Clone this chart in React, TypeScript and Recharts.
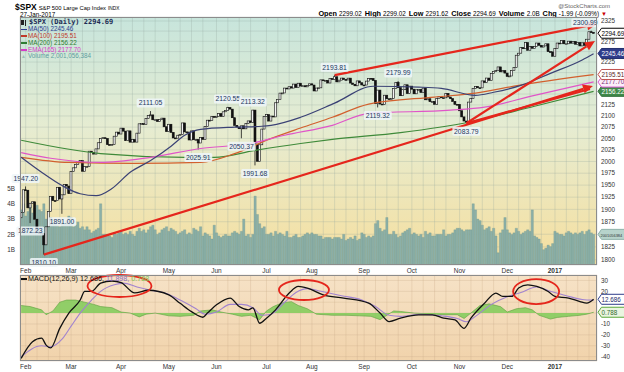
import React from "react";
import {
  ComposedChart,
  Bar,
  Line,
  Area,
  XAxis,
  YAxis,
  CartesianGrid,
  ReferenceLine,
  ReferenceDot,
} from "recharts";

// trading-day index 0 = 28-Jan-2016, 252 = 27-Jan-2017
const MONTH_IDX = [2, 22, 44, 65, 86, 108, 128, 151, 172, 193, 214, 235];
const MONTH_LABELS = ["Feb", "Mar", "Apr", "May", "Jun", "Jul", "Aug", "Sep", "Oct", "Nov", "Dec", "2017"];

const PRIOR_CLOSE = 1882.95;
const CLOSES = [
  1893.36, 1940.24,
  // Feb
  1939.38, 1903.03, 1912.53, 1915.45, 1880.05, 1853.44, 1852.21, 1851.86, 1829.08, 1864.78,
  1895.58, 1926.82, 1917.83, 1917.78, 1945.5, 1921.27, 1929.8, 1951.7, 1948.05, 1932.23,
  // Mar
  1978.35, 1986.45, 1993.4, 1999.99, 2001.76, 1979.26, 1989.26, 1989.57, 2022.19, 2019.64, 2015.93,
  2027.22, 2040.59, 2049.58, 2051.6, 2049.8, 2036.71, 2035.94, 2037.05, 2055.01, 2063.95, 2059.74,
  // Apr
  2072.78, 2066.13, 2045.17, 2066.66, 2041.91, 2047.6, 2041.99, 2061.72, 2082.42, 2082.78, 2080.73,
  2094.34, 2100.8, 2102.4, 2091.48, 2091.58, 2087.79, 2091.7, 2095.15, 2075.81, 2065.3,
  // May
  2081.43, 2063.37, 2051.12, 2050.63, 2057.14, 2058.69, 2084.39, 2064.46, 2064.11, 2046.61, 2066.66,
  2047.21, 2047.63, 2040.04, 2052.32, 2048.04, 2076.06, 2090.54, 2090.1, 2099.06, 2096.95,
  // Jun
  2099.33, 2105.26, 2099.13, 2109.41, 2112.13, 2119.12, 2115.48, 2096.07, 2079.06, 2075.32, 2071.5,
  2077.99, 2071.22, 2083.25, 2088.9, 2085.45, 2113.32, 2037.41, 2000.54, 2036.09, 2070.77, 2098.86,
  // Jul
  2102.95, 2088.55, 2099.73, 2097.9, 2129.9, 2137.16, 2152.14, 2152.43, 2163.75, 2161.74,
  2166.89, 2163.78, 2173.02, 2165.17, 2175.03, 2168.48, 2169.18, 2166.58, 2170.06, 2173.6,
  // Aug
  2170.84, 2157.03, 2163.79, 2164.25, 2182.87, 2180.89, 2181.74, 2175.49, 2185.79, 2184.05, 2190.15,
  2178.15, 2182.22, 2187.02, 2183.87, 2182.64, 2186.9, 2175.44, 2172.47, 2169.04, 2180.38, 2176.12, 2170.95,
  // Sep
  2170.86, 2179.98, 2186.48, 2186.16, 2181.3, 2127.81, 2159.04, 2127.02, 2125.77, 2147.26, 2139.16,
  2139.12, 2139.76, 2163.12, 2177.18, 2164.69, 2146.1, 2159.93, 2171.37, 2151.13, 2168.27,
  // Oct
  2161.2, 2150.49, 2159.73, 2160.77, 2153.74, 2163.66, 2136.73, 2139.18, 2132.55, 2132.98, 2126.5,
  2139.6, 2144.29, 2141.34, 2141.16, 2151.33, 2143.16, 2139.43, 2133.04, 2126.41, 2126.15,
  // Nov
  2111.72, 2097.94, 2088.66, 2085.18, 2131.52, 2139.56, 2163.26, 2167.48, 2164.45, 2164.2, 2180.39,
  2176.94, 2187.12, 2181.9, 2198.18, 2202.94, 2204.72, 2213.35, 2201.72, 2204.66, 2198.81,
  // Dec
  2191.08, 2191.95, 2204.71, 2212.23, 2241.35, 2246.19, 2259.53, 2256.96, 2271.72, 2253.28, 2262.03,
  2258.07, 2262.53, 2270.76, 2265.18, 2260.96, 2263.79, 2268.88, 2249.92, 2249.26, 2238.83,
  // Jan 2017
  2257.83, 2270.75, 2269.0, 2276.98, 2268.9, 2268.9, 2275.32, 2270.44, 2274.64, 2267.89,
  2271.89, 2263.69, 2271.31, 2265.2, 2280.07, 2298.37, 2296.68, 2294.69,
];

// volume, billions
const VOLUME_B = [
  3.6, 4.0,
  3.2, 3.5, 3.9, 3.4, 3.7, 3.9, 3.6, 3.5, 4.0, 3.0, 3.0, 3.1, 2.7, 2.8, 2.6, 2.5, 2.8, 2.7, 2.9, 3.2,
  3.1, 2.5, 2.6, 2.8, 2.4, 2.5, 2.3, 2.5, 2.3, 2.1, 2.2, 2.3, 2.4, 4.0, 2.0, 2.0, 2.0, 1.9, 1.8, 2.1, 2.0, 2.1,
  2.2, 2.0, 2.1, 2.0, 2.2, 2.0, 1.9, 2.2, 2.4, 2.2, 2.3, 2.1, 2.3, 2.5, 2.6, 2.3, 2.0, 2.1, 2.3, 2.4, 2.5,
  2.2, 2.4, 2.3, 2.2, 2.0, 2.1, 2.2, 2.3, 2.0, 2.1, 2.0, 2.4, 2.3, 2.2, 2.5, 1.9, 2.1, 2.0, 1.9, 1.7, 2.6,
  2.1, 1.9, 1.8, 1.9, 2.0, 1.9, 1.9, 2.1, 2.2, 2.1, 2.0, 2.2, 3.0, 1.9, 2.0, 1.8, 2.0, 4.5, 3.3, 2.7, 2.4, 2.5,
  2.0, 2.0, 2.1, 1.9, 2.2, 2.0, 2.1, 2.0, 1.9, 2.2, 1.8, 1.8, 1.9, 2.0, 1.8, 1.8, 1.9, 2.0, 2.1, 2.0,
  2.1, 2.0, 2.0, 1.9, 1.9, 1.7, 1.8, 1.8, 1.8, 1.7, 1.8, 1.8, 1.8, 1.7, 2.0, 1.6, 1.7, 1.8, 1.7, 1.9, 1.6, 1.7, 2.1,
  2.0, 1.8, 1.9, 1.8, 1.9, 2.7, 2.9, 2.4, 2.2, 2.3, 3.1, 2.0, 2.0, 2.2, 2.0, 1.8, 1.9, 2.1, 2.2, 2.3, 2.4,
  2.0, 2.1, 2.0, 1.9, 2.0, 1.8, 2.2, 2.0, 2.1, 1.9, 1.9, 2.0, 2.0, 2.0, 2.3, 1.9, 2.0, 2.0, 2.1, 2.3, 2.4,
  2.4, 2.3, 2.2, 2.3, 2.3, 2.3, 4.0, 3.6, 3.0, 2.9, 2.6, 2.3, 2.4, 2.5, 2.2, 2.4, 1.9, 0.8, 2.1, 2.3, 3.1,
  2.3, 2.1, 2.0, 2.1, 2.4, 2.2, 2.0, 2.1, 2.2, 2.3, 2.2, 3.6, 1.9, 1.8, 1.7, 1.4, 1.0, 1.1, 1.3, 1.2, 1.4,
  2.2, 2.1, 2.0, 2.0, 1.9, 2.1, 2.2, 2.1, 2.0, 2.1, 2.0, 2.1, 2.2, 2.0, 2.2, 2.3, 2.1, 2.0,
];

const PRICE_TICKS = [
  1800, 1825, 1850, 1875, 1900, 1925, 1950, 1975, 2000, 2025, 2050, 2075, 2100,
  2125, 2150, 2175, 2200, 2225, 2250, 2275, 2300, 2325,
];
// tick labels sitting under the value tags on the right
const PRICE_TICKS_COVERED = [1850, 2150, 2175, 2200, 2250, 2300];
const VOL_TICKS = [1, 2, 3, 4, 5];
const MACD_TICKS = [-40, -30, -20, -10, 0, 10, 20, 30];
const MACD_TICKS_COVERED = [0, 10];

// moving averages: [day index, value]
const MA50: [number, number][] = [
  [0, 2009], [9, 1977], [18, 1949], [26, 1932], [33, 1928], [40, 1943], [48, 1977], [57, 2002],
  [66, 2033], [72, 2057], [79, 2070], [94, 2075], [106, 2077], [110, 2079], [123, 2097], [138, 2129],
  [155, 2168], [175, 2166], [185, 2163], [200, 2147], [208, 2154], [220, 2170], [233, 2198], [247, 2230], [252, 2245],
];
const MA100: [number, number][] = [
  [0, 2009], [21, 1998], [50, 1996], [79, 1998], [94, 2017], [109, 2048], [123, 2073], [137, 2097],
  [153, 2127], [182, 2143], [200, 2152], [219, 2170], [252, 2195],
];
const EMA165: [number, number][] = [
  [0, 2019], [13, 2007], [35, 1998], [57, 2009], [79, 2028], [101, 2039], [116, 2057], [137, 2079],
  [153, 2106], [189, 2113], [204, 2120], [226, 2147], [252, 2178],
];
const MA200: [number, number][] = [
  [0, 2046], [35, 2017], [72, 2009], [85, 2009], [103, 2024], [123, 2039], [137, 2048], [167, 2063],
  [197, 2086], [226, 2122], [252, 2156],
];

// labelled highs / lows (dx nudges a label sideways)
const PIVOTS = [
  { i: 2, v: 1947.2, up: true, dx: 0 },
  { i: 4, v: 1872.23, up: false, dx: 0 },
  { i: 10, v: 1810.1, up: false, dx: 0 },
  { i: 18, v: 1891.0, up: false, dx: 0 },
  { i: 57, v: 2111.05, up: true, dx: 0 },
  { i: 78, v: 2025.91, up: false, dx: 0 },
  { i: 91, v: 2120.55, up: true, dx: 0 },
  { i: 97, v: 2050.37, up: false, dx: 0 },
  { i: 102, v: 2113.32, up: true, dx: 0 },
  { i: 103, v: 1991.68, up: false, dx: 0 },
  { i: 138, v: 2193.81, up: true, dx: 0 },
  { i: 157, v: 2119.32, up: false, dx: 0 },
  { i: 166, v: 2179.99, up: true, dx: 0 },
  { i: 196, v: 2083.79, up: false, dx: 0 },
  { i: 251, v: 2300.99, up: true, dx: -6 },
];

// hand-drawn trend lines: start, end, arrow head or not
const TRENDS: { a: [number, number]; b: [number, number]; arrow: boolean }[] = [
  { a: [10, 1810.1], b: [251.7, 2168.6], arrow: true },
  { a: [196, 2083.79], b: [250.4, 2161.6], arrow: false },
  { a: [138, 2193.81], b: [253.5, 2317.6], arrow: true },
  { a: [196, 2083.79], b: [252.6, 2275.7], arrow: true },
];

const MACD_LINE: [number, number][] = [
  [0, -41.6], [5, -26.3], [9, -23], [11, -29.4], [13, -32], [17, -14], [21, 0], [26, 12], [28, 20],
  [31, 20], [35, 27.6], [40, 29.5], [44, 28], [50, 18.5], [56, 21], [65, 16.8], [70, 9], [75, 1.4],
  [80, -3.8], [82, 0], [86, 7.6], [92, 13.8], [96, 6], [100, 3], [102, 4.8], [105, -9.3], [108, -4.7],
  [112, 3], [118, 18.4], [122, 24.5], [126, 23], [133, 16.8], [142, 13.8], [153, 9.1], [158, 0],
  [162, -7.8], [167, -4.7], [175, -1.7], [181, -1.7], [186, -4.7], [191, -6.3], [195, -14], [198, -4.7],
  [204, 9.1], [209, 18.4], [212, 15.3], [216, 15.3], [219, 23], [223, 26], [227, 24.5], [232, 19.9],
  [235, 15.3], [241, 13.8], [246, 10.6], [249, 9.1], [252, 12.686],
];
const SIGNAL_LINE: [number, number][] = [
  [0, -40], [9, -30], [13, -31], [18, -24], [22, -12], [26, 0], [31, 12], [35, 20], [41, 26], [45, 27.5],
  [51, 24], [57, 21], [64, 18], [70, 12], [77, 4], [81, -1], [86, 1], [92, 8], [97, 8], [102, 5],
  [106, -2], [110, -1], [116, 10], [121, 19], [126, 22.5], [132, 20], [141, 16], [150, 12], [156, 6],
  [162, -2], [167, -3], [176, -1], [185, -2.5], [192, -5], [196, -8], [200, -3], [207, 8], [214, 15],
  [220, 19], [227, 24], [233, 20], [240, 16], [247, 12.5], [252, 11.898],
];
const HISTOGRAM: [number, number][] = [
  [0, 7], [4, 6], [9, 3], [11, -1.5], [14, 2], [17, 10], [20, 12], [24, 12], [28, 10], [32, 8], [35, 6],
  [40, 5], [44, 1], [48, 0], [52, -3.5], [55, -1], [59, 0], [65, -2.5], [70, -3], [76, -2], [79, 2],
  [84, 3], [88, 1], [93, -1], [97, -3], [101, -2], [105, -6], [108, 2], [111, 6], [115, 9.5], [119, 10.5],
  [122, 7], [126, 4], [130, -1], [137, -2], [143, -2], [149, -2.5], [154, -3], [158, -6], [161, -2],
  [164, 2], [167, 1.5], [173, 0], [181, -1], [187, -1.5], [192, -1.5], [195, -5], [198, 0], [202, 7],
  [206, 8.5], [211, 6], [214, 1], [218, 4], [222, 5], [225, 3], [228, -2], [233, -5.5], [236, -4],
  [241, -3], [246, -2], [249, -1], [252, 0.788],
];
const CIRCLES = [
  { i: 43.3, v: 24.9, rx: 32, ry: 11 },
  { i: 124.5, v: 21.2, rx: 25, ry: 10 },
  { i: 226.7, v: 19.8, rx: 23, ry: 12.5 },
];

const X_DOMAIN: [number, number] = [-0.5, 253.5];
const PRICE_DOMAIN: [number, number] = [1790, 2335];
const VOL_DOMAIN: [number, number] = [0, 16.2];
const MACD_DOMAIN: [number, number] = [-44, 35];

const FONT = "'Liberation Sans', Arial, sans-serif";
const RED = "#e5261c";

const GRID_TICKS: number[] = [];
MONTH_IDX.forEach((m, k) => {
  const next = k + 1 < MONTH_IDX.length ? MONTH_IDX[k + 1] : 254;
  for (let t = m; t <= next - 3; t += 5) GRID_TICKS.push(t);
});

const m50 = new Map(MA50);
const m100 = new Map(MA100);
const m200 = new Map(MA200);
const e165 = new Map(EMA165);
const macdMap = new Map(MACD_LINE);
const sigMap = new Map(SIGNAL_LINE);
const histMap = new Map(HISTOGRAM);

const priceRows = CLOSES.map((close, i) => {
  const open = i === 0 ? PRIOR_CLOSE : CLOSES[i - 1];
  let lo = Math.min(open, close);
  let hi = Math.max(open, close);
  const piv = PIVOTS.find((p) => p.i === i);
  if (piv && piv.up) hi = Math.max(hi, piv.v);
  if (piv && !piv.up) lo = Math.min(lo, piv.v);
  return {
    i,
    open,
    close,
    range: [lo, hi],
    vol: VOLUME_B[i],
    ma50: m50.get(i),
    ma100: m100.get(i),
    ma200: m200.get(i),
    ema165: e165.get(i),
  };
});

const macdRows = CLOSES.map((_, i) => ({
  i,
  macd: macdMap.get(i),
  signal: sigMap.get(i),
  hist: histMap.get(i),
}));

function MonthTick({ x, y, payload }: any) {
  const k = MONTH_IDX.indexOf(payload.value);
  if (k < 0) return <g />;
  const label = MONTH_LABELS[k];
  return (
    <text x={x} y={y + 5.5} textAnchor="middle" fontSize={6.5} fontFamily={FONT}
      fontWeight={label === "2017" ? 700 : 400} fill="#333">
      {label}
    </text>
  );
}

function Candle(props: any) {
  const { x, y, width, height, payload } = props;
  const [lo, hi] = payload.range;
  const span = Math.log(hi) - Math.log(lo);
  const py = (v: number) => (span > 0 ? y + (height * (Math.log(hi) - Math.log(v))) / span : y);
  const cx = x + width / 2;
  const top = py(Math.max(payload.open, payload.close));
  const bot = py(Math.min(payload.open, payload.close));
  const up = payload.close >= payload.open;
  return (
    <g>
      <line x1={cx} x2={cx} y1={y} y2={y + height} stroke="#111" strokeWidth={0.8} />
      <rect x={cx - 1} y={top} width={2} height={Math.max(bot - top, 0.9)}
        fill={up ? "#f4f4f4" : "#111"} stroke="#111" strokeWidth={0.6} />
    </g>
  );
}

const pivotShape = (up: boolean, text: string, dx: number) => (p: any) => {
  const y = p.cy + (up ? -8 : 8);
  const cx = p.cx + dx;
  const w = text.length * 3.7 + 2;
  return (
    <g>
      <rect x={cx - w / 2} y={y - 4.5} width={w} height={9} rx={1.5} fill="#eef6f9" fillOpacity={0.85} />
      <text x={cx} y={y + 2.4} textAnchor="middle" fontSize={6.8} fontFamily={FONT} fill="#22365e">
        {text}
      </text>
    </g>
  );
};

const tagShape = (text: string, fill: string, stroke: string, color: string, size = 6.3) => (p: any) => {
  const x = p.cx + 1;
  const y = p.cy;
  return (
    <g>
      <path d={`M${x},${y} L${x + 3.5},${y - 5} L${x + 30},${y - 5} L${x + 30},${y + 5} L${x + 3.5},${y + 5} Z`}
        fill={fill} stroke={stroke} strokeWidth={1} />
      <text x={x + (size < 5 ? 2.5 : 3.5)} y={y + 2.3} fontSize={size} fontFamily={FONT} fill={color}>
        {text}
      </text>
    </g>
  );
};

const ellipseShape = (rx: number, ry: number) => (p: any) => (
  <ellipse cx={p.cx} cy={p.cy} rx={rx} ry={ry} fill="none" stroke={RED} strokeWidth={1.8} />
);

const arrowShape = (arrow: boolean) => (p: any) => {
  const { x1, y1, x2, y2 } = p;
  if (!arrow) return <line x1={x1} y1={y1} x2={x2} y2={y2} stroke={RED} strokeWidth={2} />;
  const a = Math.atan2(y2 - y1, x2 - x1);
  const L = 10;
  const H = 4.5;
  const bx = x2 - L * Math.cos(a);
  const by = y2 - L * Math.sin(a);
  const pts = `${x2},${y2} ${bx + H * Math.sin(a)},${by - H * Math.cos(a)} ${bx - H * Math.sin(a)},${by + H * Math.cos(a)}`;
  return (
    <g>
      <line x1={x1} y1={y1} x2={bx} y2={by} stroke={RED} strokeWidth={2.2} />
      <polygon points={pts} fill={RED} />
    </g>
  );
};

const axisTick = { fontSize: 6.3, fill: "#333", fontFamily: FONT };

const LEGEND = [
  { text: "MA(50) 2245.46", color: "#2d3c8f" },
  { text: "MA(100) 2195.51", color: "#c0392b" },
  { text: "MA(200) 2156.22", color: "#2e7d32" },
  { text: "EMA(165) 2177.70", color: "#d63cc8" },
];

const HEADER_STATS = [
  ["Open", "2299.02"],
  ["High", "2299.02"],
  ["Low", "2291.62"],
  ["Close", "2294.69"],
  ["Volume", "2.0B"],
  ["Chg", "-1.99 (-0.09%)"],
];

export default function App() {
  return (
    <div style={{ position: "absolute", left: 0, top: 0, width: 624, height: 372, background: "#fff", overflow: "hidden", lineHeight: 1 }}>
      {/* price panel: background, grid, volume, axes */}
      <div style={{ position: "absolute", left: 0, top: 0 }}>
        <ComposedChart width={624} height={280} data={priceRows} margin={{ top: 17, right: 0, bottom: 3, left: 0 }}>
          <defs>
            <linearGradient id="mainBg" x1="0" y1="0" x2="0" y2="1">
              <stop offset="0%" stopColor="#c7e5dc" />
              <stop offset="45%" stopColor="#e6ecd1" />
              <stop offset="100%" stopColor="#f6df9e" />
            </linearGradient>
          </defs>
          <CartesianGrid yAxisId="price" fill="url(#mainBg)" stroke="#93a59e" strokeOpacity={0.45} strokeWidth={0.6} />
          <XAxis dataKey="i" type="number" domain={X_DOMAIN} ticks={GRID_TICKS} interval={0} allowDataOverflow
            tick={<MonthTick />} tickLine={false} axisLine={false} height={12} tickSize={0} tickMargin={2} />
          <YAxis yAxisId="vol" orientation="left" width={20} domain={VOL_DOMAIN} ticks={VOL_TICKS} interval={0}
            allowDataOverflow tickFormatter={(v) => `${v}B`} tick={axisTick} tickLine={false} axisLine={false}
            tickSize={0} tickMargin={5} />
          <YAxis yAxisId="price" orientation="right" width={27} scale="log" domain={PRICE_DOMAIN} ticks={PRICE_TICKS}
            interval={0} allowDataOverflow tick={axisTick} tickLine={false} axisLine={false} tickSize={0} tickMargin={4}
            tickFormatter={(v) => (PRICE_TICKS_COVERED.includes(v) ? "" : String(v))} />
          <Bar yAxisId="vol" dataKey="vol" barSize={2.27} fill="#8cb0a8" stroke="#71958d" strokeWidth={0.3}
            isAnimationActive={false} />
        </ComposedChart>
      </div>

      {/* price panel: candles, averages, annotations */}
      <div style={{ position: "absolute", left: 0, top: 0 }}>
        <ComposedChart width={624} height={280} data={priceRows} margin={{ top: 17, right: 27, bottom: 15, left: 20 }}>
          <XAxis dataKey="i" type="number" domain={X_DOMAIN} hide allowDataOverflow />
          <YAxis yAxisId="price" hide scale="log" domain={PRICE_DOMAIN} allowDataOverflow />
          <YAxis yAxisId="vol" hide domain={VOL_DOMAIN} allowDataOverflow />
          <Line yAxisId="price" dataKey="ma200" type="monotone" stroke="#3f8a3a" strokeWidth={1.2} dot={false} connectNulls isAnimationActive={false} />
          <Line yAxisId="price" dataKey="ma100" type="monotone" stroke="#d2602e" strokeWidth={1.2} dot={false} connectNulls isAnimationActive={false} />
          <Line yAxisId="price" dataKey="ema165" type="monotone" stroke="#e055c8" strokeWidth={1.2} dot={false} connectNulls isAnimationActive={false} />
          <Line yAxisId="price" dataKey="ma50" type="monotone" stroke="#3b4275" strokeWidth={1.2} dot={false} connectNulls isAnimationActive={false} />
          <Bar yAxisId="price" dataKey="range" barSize={2} shape={Candle} isAnimationActive={false} />
          {TRENDS.map((t, k) => (
            <ReferenceLine key={`t${k}`} yAxisId="price" ifOverflow="visible"
              segment={[{ x: t.a[0], y: t.a[1] }, { x: t.b[0], y: t.b[1] }]} shape={arrowShape(t.arrow)} />
          ))}
          {PIVOTS.map((p) => (
            <ReferenceDot key={`p${p.i}`} yAxisId="price" x={p.i} y={p.v} ifOverflow="visible"
              shape={pivotShape(p.up, p.v.toFixed(2), p.dx)} />
          ))}
          <ReferenceDot yAxisId="vol" x={253.5} y={2.001} ifOverflow="visible" shape={tagShape("2001056384", "#b7d3cb", "#8fb2aa", "#333", 3.9)} />
          <ReferenceDot yAxisId="price" x={253.5} y={2156.22} ifOverflow="visible" shape={tagShape("2156.22", "#3f8a4a", "#2e6e38", "#fff")} />
          <ReferenceDot yAxisId="price" x={253.5} y={2177.7} ifOverflow="visible" shape={tagShape("2177.70", "#fbeefa", "#d65ad0", "#7a2a78")} />
          <ReferenceDot yAxisId="price" x={253.5} y={2195.51} ifOverflow="visible" shape={tagShape("2195.51", "#fff", "#c0504d", "#5a1f1f")} />
          <ReferenceDot yAxisId="price" x={253.5} y={2245.46} ifOverflow="visible" shape={tagShape("2245.46", "#2f3d8a", "#22306e", "#fff")} />
          <ReferenceDot yAxisId="price" x={253.5} y={2294.69} ifOverflow="visible" shape={tagShape("2294.69", "#fff", "#000", "#000")} />
        </ComposedChart>
      </div>

      {/* MACD panel */}
      <div style={{ position: "absolute", left: 0, top: 270 }}>
        <ComposedChart width={624} height={102} data={macdRows} margin={{ top: 5, right: 0, bottom: 1, left: 20 }}>
          <defs>
            <linearGradient id="macdBg" x1="0" y1="0" x2="0" y2="1">
              <stop offset="0%" stopColor="#f6e2c6" />
              <stop offset="100%" stopColor="#f1d3ab" />
            </linearGradient>
          </defs>
          <CartesianGrid yAxisId="macd" fill="url(#macdBg)" stroke="#c8aa88" strokeOpacity={0.5} strokeWidth={0.6} />
          <XAxis dataKey="i" type="number" domain={X_DOMAIN} ticks={GRID_TICKS} interval={0} allowDataOverflow
            tick={<MonthTick />} tickLine={false} axisLine={false} height={10} tickSize={0} tickMargin={2} />
          <YAxis yAxisId="macd" orientation="right" width={27} domain={MACD_DOMAIN} ticks={MACD_TICKS} interval={0}
            allowDataOverflow tick={axisTick} tickLine={false} axisLine={false} tickSize={0} tickMargin={4}
            tickFormatter={(v) => (MACD_TICKS_COVERED.includes(v) ? "" : String(v))} />
          <Area yAxisId="macd" dataKey="hist" type="linear" baseValue={0} connectNulls fill="#86cc5e" fillOpacity={0.9}
            stroke="#5c9f3e" strokeWidth={0.6} isAnimationActive={false} />
          <Line yAxisId="macd" dataKey="signal" type="monotone" stroke="#a183cf" strokeWidth={1.1} dot={false} connectNulls isAnimationActive={false} />
          <Line yAxisId="macd" dataKey="macd" type="monotone" stroke="#111" strokeWidth={1.3} dot={false} connectNulls isAnimationActive={false} />
          {CIRCLES.map((c, k) => (
            <ReferenceDot key={`c${k}`} yAxisId="macd" x={c.i} y={c.v} ifOverflow="visible" shape={ellipseShape(c.rx, c.ry)} />
          ))}
          <ReferenceDot yAxisId="macd" x={253.5} y={0.788} ifOverflow="visible" shape={tagShape("0.788", "#eaf5e0", "#5aa83a", "#2f6a2a")} />
          <ReferenceDot yAxisId="macd" x={253.5} y={12.686} ifOverflow="visible" shape={tagShape("12.686", "#fff", "#2f3d8a", "#1d2b6b")} />
        </ComposedChart>
      </div>

      {/* header */}
      <svg width={624} height={18} style={{ position: "absolute", left: 0, top: 0 }}>
        <text x={15} y={9.5} fontFamily={FONT} fill="#000">
          <tspan fontSize={8.5} fontWeight={700}>$SPX</tspan>
          <tspan fontSize={5.8} dx={2}>S&amp;P 500 Large Cap Index</tspan>
          <tspan fontSize={4.8} dx={2}>INDX</tspan>
        </text>
        <text x={20} y={17} fontSize={6.3} fontFamily={FONT} fill="#000">27-Jan-2017</text>
        <text x={610} y={7.5} fontSize={6} fontFamily={FONT} fill="#666" textAnchor="end">@StockCharts.com</text>
        <text x={607} y={16} fontFamily={FONT} fill="#000" textAnchor="end">
          {HEADER_STATS.map(([k, v], n) => (
            <React.Fragment key={k}>
              <tspan fontSize={7.3} fontWeight={700} dx={n === 0 ? 0 : 3}>{k}</tspan>
              <tspan fontSize={6.3} dx={2}>{v}</tspan>
            </React.Fragment>
          ))}
          <tspan fontSize={6} dx={2} fill="#c00">▼</tspan>
        </text>
      </svg>

      {/* legend inside price panel */}
      <div style={{ position: "absolute", left: 21, top: 19, fontFamily: FONT, whiteSpace: "nowrap" }}>
        <div style={{ height: 7, display: "flex", alignItems: "center", fontSize: 7, fontWeight: 700, color: "#1d2b55", fontFamily: "'DejaVu Sans Mono', monospace" }}>
          <span style={{ display: "inline-block", width: 3, height: 5, background: "#222", marginRight: 1 }} />
          <span style={{ display: "inline-block", width: 1, height: 6, background: "#222", marginRight: 3 }} />
          $SPX (Daily) 2294.69
        </div>
        {LEGEND.map((l) => (
          <div key={l.text} style={{ height: 6.8, display: "flex", alignItems: "center", fontSize: 6.3, color: l.color }}>
            <span style={{ display: "inline-block", width: 6, height: 1.5, background: l.color, marginRight: 1 }} />
            {l.text}
          </div>
        ))}
        <div style={{ height: 6.8, display: "flex", alignItems: "center", fontSize: 6.3, color: "#5f9ea0" }}>
          <span style={{ fontSize: 5, marginRight: 2, color: "#9fc0b8" }}>▲</span>
          Volume 2,001,056,384
        </div>
      </div>

      {/* MACD legend */}
      <div style={{ position: "absolute", left: 21, top: 275, fontSize: 7.2, fontFamily: FONT, whiteSpace: "nowrap", display: "flex", alignItems: "center", height: 8 }}>
        <span style={{ display: "inline-block", width: 6, height: 1.5, background: "#111", marginRight: 1 }} />
        <span style={{ color: "#111" }}>MACD(12,26,9) 12.686, </span>
        <span style={{ color: "#8a6cc0" }}>&nbsp;11.898, </span>
        <span style={{ color: "#7cc354" }}>&nbsp;0.788</span>
      </div>

      {/* panel frames */}
      <div style={{ position: "absolute", left: 19.5, top: 16.5, width: 577, height: 248, border: "1px solid #8c8c8c", boxSizing: "border-box", pointerEvents: "none" }} />
      <div style={{ position: "absolute", left: 19.5, top: 274.5, width: 577, height: 86, border: "1px solid #8c8c8c", boxSizing: "border-box", pointerEvents: "none" }} />
    </div>
  );
}
